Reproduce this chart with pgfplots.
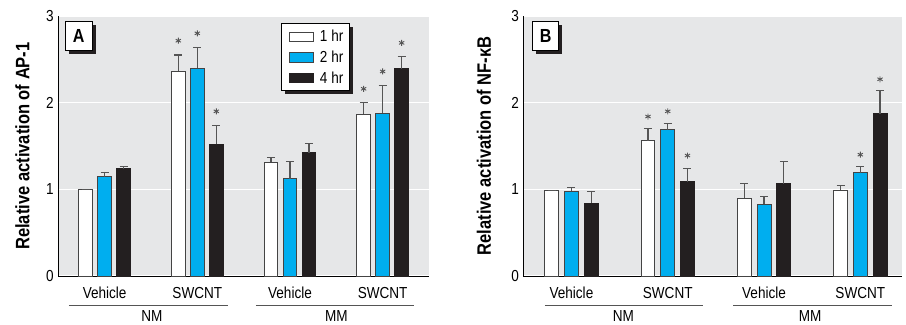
\documentclass[border=0pt]{standalone}
\usepackage{fontspec}
\setmainfont{Liberation Sans}[FakeStretch=0.85]
\usepackage{pgfplots}
\pgfplotsset{compat=1.18}
\usetikzlibrary{shadows}
\definecolor{bggray}{HTML}{E6E7E8}
\definecolor{barblue}{HTML}{00AEEF}
\definecolor{barblack}{HTML}{231F20}
\definecolor{edgegray}{HTML}{444444}
\definecolor{errgray}{HTML}{555555}
\newcommand{\fs}[1]{\fontsize{#1}{#1}\selectfont}
\tikzset{
  boxlabel/.style={draw=black, line width=0.8bp, fill=white, inner sep=0pt,
    anchor=north west, font=\bfseries\fs{19},
    drop shadow={shadow xshift=3.5bp, shadow yshift=-3.5bp, fill=barblack, opacity=1}},
}
\pgfplotsset{
  panel/.style={
    scale only axis, height=260bp,
    ymin=0, ymax=3, xmin=-0.5,
    axis x line*=bottom, axis y line*=left,
    axis line style={-, black, line width=1bp},
    ytick={0,1,2,3}, xtick={0,1,2,3},
    xticklabels={Vehicle,SWCNT,Vehicle,SWCNT},
    major tick length=0pt,
    ymajorgrids, grid style={white, line width=1.5bp},
    axis background/.style={fill=bggray},
    tick label style={font=\fs{16}},
    /pgf/number format/assume math mode=true,
    xticklabel style={anchor=base, yshift=-22.5bp},
    yticklabel style={anchor=east, xshift=-1bp},
    ylabel style={font=\bfseries\fs{19.5}},
    clip=false,
    legend image code/.code={\draw[#1] (0bp,-4.7bp) rectangle (23.7bp,4.7bp);},
  },
  eb/.style={error bars/.cd, y dir=plus, y explicit,
    error bar style={errgray, line width=1.2bp},
    error mark options={errgray, line width=1.2bp, mark size=4bp, rotate=90}},
  b1/.style={ybar, bar width=0.145, bar shift=0, fill=white, draw=edgegray, line width=1bp, eb},
  b2/.style={ybar, bar width=0.145, bar shift=0, fill=barblue, draw=edgegray, line width=1bp, eb},
  b3/.style={ybar, bar width=0.145, bar shift=0, fill=barblack, draw=barblack, line width=1bp, eb},
  star/.style={only marks, mark=asterisk, mark size=3bp, mark options={errgray, line width=0.9bp}, forget plot},
}
\begin{document}
\begin{tikzpicture}
% ---------------- Panel A ----------------
\begin{axis}[panel, at={(58.3bp,49bp)}, anchor=south west, width=370.7bp, xmax=3.5,
  ylabel={Relative activation of AP-1},
  ylabel style={at={(rel axis cs:0,0.5)}, anchor=center, yshift=35.8bp},
  legend style={at={(rel axis cs:0.6118,0.965)}, anchor=north west, draw=none, fill=none,
    font=\fs{16}, row sep=3.6bp, column sep=4bp, inner xsep=4bp, inner ysep=3bp},
  legend cell align=left]
\node[boxlabel, minimum width=68bp, minimum height=67bp] at (rel axis cs:0.6014,0.973) {};
\addplot[b1] coordinates {(-0.205,1.00) +- (0,0.0) (0.795,2.365) +- (0,0.185) (1.795,1.315) +- (0,0.05) (2.795,1.865) +- (0,0.135)};
\addplot[b2] coordinates {(0,1.145) +- (0,0.045) (1,2.395) +- (0,0.245) (2,1.12) +- (0,0.20) (3,1.877) +- (0,0.323)};
\addplot[b3] coordinates {(0.205,1.24) +- (0,0.02) (1.205,1.52) +- (0,0.22) (2.205,1.42) +- (0,0.11) (3.205,2.39) +- (0,0.14)};
\legend{1 hr, 2 hr, 4 hr}
\addplot[star] coordinates {(0.795,2.715) (1,2.80) (1.205,1.90) (2.795,2.16) (3,2.36) (3.205,2.69)};
\node[boxlabel, minimum width=26.7bp, minimum height=29bp] at (rel axis cs:0.018,0.981) {A};
\draw[errgray, line width=1.2bp] (axis cs:-0.385,-0.338) -- (axis cs:1.327,-0.338);
\draw[errgray, line width=1.2bp] (axis cs:1.633,-0.338) -- (axis cs:3.34,-0.338);
\node[anchor=base, font=\fs{16}] at (axis cs:0.51,-0.53) {NM};
\node[anchor=base, font=\fs{16}] at (axis cs:2.50,-0.53) {MM};
\end{axis}
% ---------------- Panel B ----------------
\begin{axis}[panel, at={(523.3bp,49bp)}, anchor=south west, width=378.4bp, xmax=3.43,
  ylabel={Relative activation of NF-κB},
  ylabel style={at={(rel axis cs:0,0.5)}, anchor=center, yshift=39.3bp}]
\addplot[b1] coordinates {(-0.205,0.99) +- (0,0.0) (0.795,1.56) +- (0,0.14) (1.795,0.90) +- (0,0.17) (2.795,0.988) +- (0,0.052)};
\addplot[b2] coordinates {(0,0.98) +- (0,0.04) (1,1.69) +- (0,0.067) (2,0.827) +- (0,0.088) (3,1.19) +- (0,0.075)};
\addplot[b3] coordinates {(0.205,0.84) +- (0,0.137) (1.205,1.09) +- (0,0.15) (2.205,1.065) +- (0,0.255) (3.205,1.87) +- (0,0.27)};
\addplot[star] coordinates {(0.795,1.84) (1,1.90) (1.205,1.39) (3,1.40) (3.205,2.27)};
\node[boxlabel, minimum width=26bp, minimum height=28.5bp] at (rel axis cs:0.024,0.979) {B};
\draw[errgray, line width=1.2bp] (axis cs:-0.275,-0.338) -- (axis cs:1.37,-0.338);
\draw[errgray, line width=1.2bp] (axis cs:1.68,-0.338) -- (axis cs:3.33,-0.338);
\node[anchor=base, font=\fs{16}] at (axis cs:0.54,-0.53) {NM};
\node[anchor=base, font=\fs{16}] at (axis cs:2.48,-0.53) {MM};
\end{axis}
\pgfresetboundingbox
\useasboundingbox (0,0) rectangle (906bp,325bp);
\end{tikzpicture}
\end{document}
